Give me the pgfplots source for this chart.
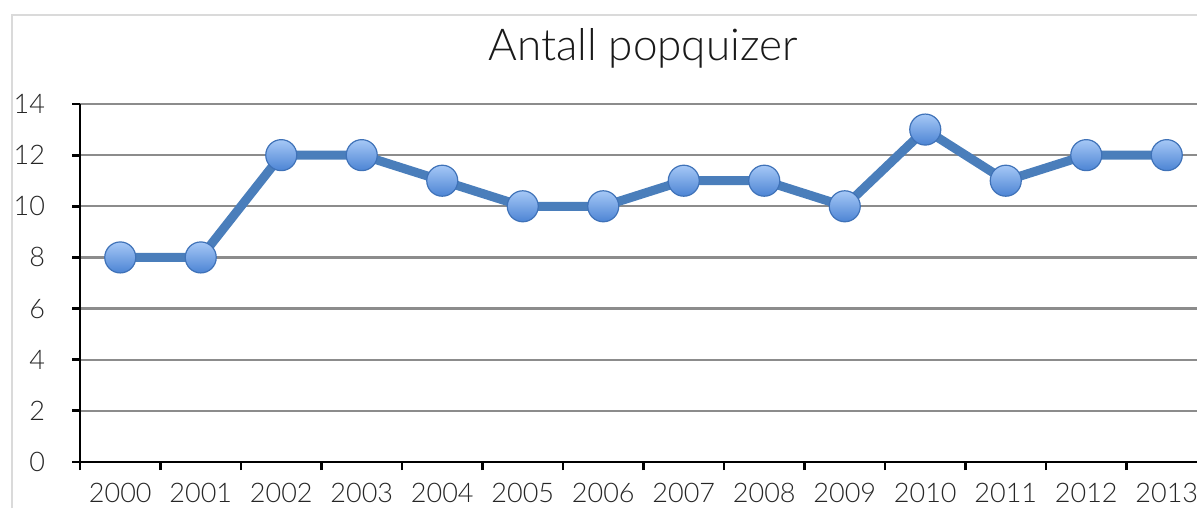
\documentclass[border=0pt]{standalone}
\usepackage{pgfplots}
\pgfplotsset{compat=1.18}
\usepackage{fontspec}
\IfFontExistsTF{Lato Light}{\setmainfont{Lato Light}}{\setmainfont{Lato}}
\definecolor{linecol}{HTML}{4A7EBB}
\definecolor{mtop}{HTML}{A6C8F6}
\definecolor{mbot}{HTML}{4C84D4}
\definecolor{mdraw}{HTML}{3F72B8}
\definecolor{gridcol}{HTML}{8C8C8C}
\definecolor{framecol}{HTML}{DADADA}

\begin{document}
\begin{tikzpicture}
% chart frame
\draw[framecol, line width=0.7pt] (6pt,0pt) -- (6pt,246.5pt) -- (598.5pt,246.5pt);
\node[font=\fontsize{22}{26}\selectfont, text=black!90] at (321.5pt,230pt) {Antall popquizer};
\begin{axis}[
    at={(40pt,23pt)}, anchor=south west,
    scale only axis, width=563.5pt, height=179pt,
    xmin=-0.5, xmax=13.5, ymin=0, ymax=14,
    axis x line*=bottom, axis y line*=left,
    axis line style={line width=1.4pt, black},
    ytick={0,2,...,14},
    xtick={-0.5,0.5,...,13.5}, xticklabels={},
    extra x ticks={0,...,13},
    extra x tick labels={2000,2001,2002,2003,2004,2005,2006,2007,2008,2009,2010,2011,2012,2013},
    extra x tick style={major tick length=0pt, grid=none},
    tick align=outside, major tick length=4pt,
    tick style={line width=1.4pt, black},
    ymajorgrids, grid style={gridcol, line width=1.1pt},
    /pgf/number format/assume math mode=true,
    tick label style={font=\fontsize{13.5}{15}\selectfont, text=black!85},
    xticklabel style={yshift=-7pt},
    yticklabel style={xshift=-10pt},
    clip=false,
]
\addplot[linecol, line width=4.5pt, line join=round,
    nodes near coords={},
    every node near coord/.append style={circle, inner sep=0pt, minimum size=15.5pt,
        anchor=center, draw=mdraw, line width=0.6pt, top color=mtop, bottom color=mbot}]
coordinates {
    (0,8)(1,8)(2,12)(3,12)(4,11)(5,10)(6,10)(7,11)(8,11)(9,10)(10,13)(11,11)(12,12)(13,12)
};
\end{axis}
\pgfresetboundingbox
\path[use as bounding box] (0,0) rectangle (598.5pt,254pt);
\end{tikzpicture}
\end{document}
